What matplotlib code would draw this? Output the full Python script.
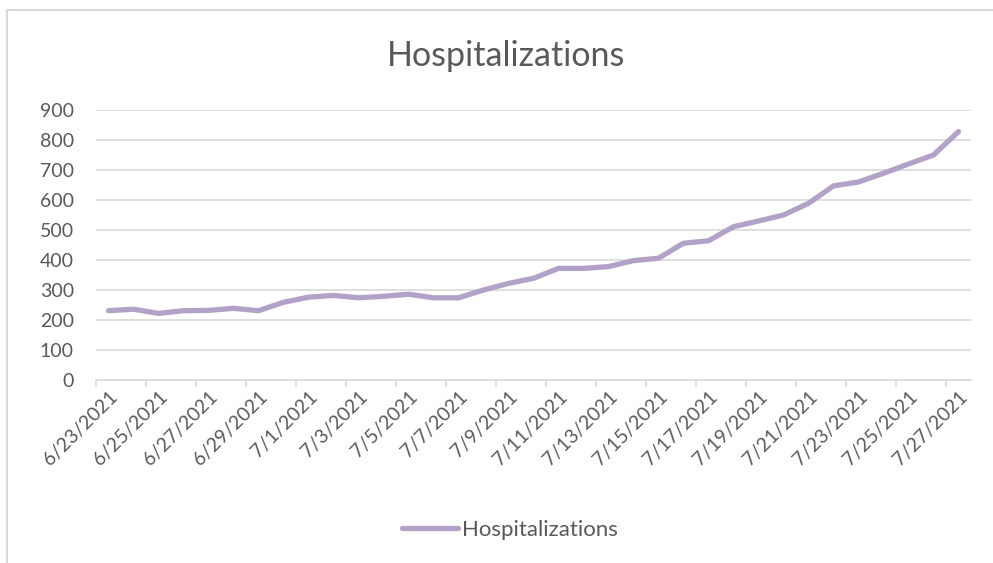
import numpy as np
import pandas as pd
import matplotlib
matplotlib.use("Agg")
import matplotlib.pyplot as plt
from matplotlib.lines import Line2D

plt.rcParams["font.family"] = ["Lato", "DejaVu Sans"]

# data, one value per day
dates = pd.date_range("2021-06-23", "2021-07-27", freq="D")
labels = [f"{d.month}/{d.day}/{d.year}" for d in dates]
hospitalizations = [231, 236, 222, 231, 232, 239, 231, 259, 276, 282,
                    274, 279, 286, 274, 274, 300, 322, 339, 372, 372,
                    378, 398, 406, 456, 464, 511, 530, 550, 589, 647,
                    660, 689, 720, 750, 828]
yticks = [0, 100, 200, 300, 400, 500, 600, 700, 800, 900]

text_col = "#595959"
grid_col = "#D9D9D9"
line_col = "#B3A2C7"

W, H = 993, 563
fig = plt.figure(figsize=(W / 100, H / 100), dpi=100)
ax = fig.add_axes([96 / W, 1 - 380 / H, (971 - 96) / W, 270 / H])

x = np.arange(len(hospitalizations))
ax.plot(x, hospitalizations, color=line_col, lw=3.8, solid_capstyle="round",
        solid_joinstyle="round", label="Hospitalizations", zorder=3)

ax.set_xlim(-0.5, len(x) - 0.5)
ax.set_ylim(0, 900)
ax.set_yticks(yticks)
ax.yaxis.grid(True, color=grid_col, lw=1.2)
ax.set_axisbelow(True)
for s in ["top", "right", "left"]:
    ax.spines[s].set_visible(False)
ax.spines["bottom"].set_color(grid_col)
ax.spines["bottom"].set_linewidth(1.2)
ax.tick_params(axis="y", length=0, pad=16, labelsize=14, labelcolor=text_col)

# tick marks between category pairs, labels on every second category
ax.set_xticks(np.arange(-0.5, len(x) - 1, 2))
ax.set_xticklabels([])
ax.tick_params(axis="x", which="major", length=5, width=1.2, color=grid_col)
ax.set_xticks(x[::2], minor=True)
ax.set_xticklabels(labels[::2], minor=True, rotation=45, ha="right",
                   va="top", rotation_mode="anchor")
ax.tick_params(axis="x", which="minor", length=0, pad=6, labelsize=14,
               labelcolor=text_col)

fig.text(506 / W, 1 - 56 / H, "Hospitalizations", ha="center", va="center",
         fontsize=24.5, color=text_col)

leg = fig.legend(loc="center", bbox_to_anchor=(510 / W, 1 - 530 / H),
                 frameon=False, fontsize=16, handlelength=2.5,
                 handletextpad=0.2, labelcolor=text_col)
for h in leg.get_lines():
    h.set_linewidth(3.8)

# chart area border
fig.add_artist(Line2D([7 / W, 1], [1 - 10 / H] * 2, color=grid_col, lw=1.5))
fig.add_artist(Line2D([7 / W] * 2, [0, 1 - 10 / H], color=grid_col, lw=1.5))

fig.savefig("out.png", dpi=100)
